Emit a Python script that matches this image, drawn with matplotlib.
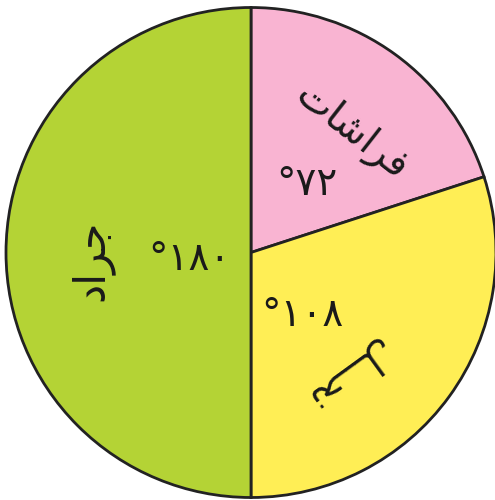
import matplotlib
matplotlib.use("Agg")
import matplotlib.pyplot as plt

# slice data (degrees), drawn clockwise from the top
names = ["فراشات", "نحل", "جراد"]
degrees = [72, 108, 180]
colors = ["#F9B4D2", "#FFEE55", "#B4D335"]

# matplotlib does not shape Arabic, so give the joined glyphs in visual order
shaped = {
    "فراشات": "\uFE95\uFE8E\uFEB7\uFE8D\uFEAE\uFED3",
    "نحل": "\uFEDE\u0640\u0640\u0640\uFEA4\uFEE7",
    "جراد": "\uFEA9\uFE8D\uFEAE\uFE9F",
}

name_pos = [(0.41, 0.49), (0.39, -0.50), (-0.65, -0.03)]
name_rot = [-38, -144, 90]
name_size = [28, 27, 31]
deg_pos = [(0.23, 0.28), (0.21, -0.255), (-0.25, -0.025)]

arabic_digits = str.maketrans("0123456789", "٠١٢٣٤٥٦٧٨٩")

fig = plt.figure(figsize=(4.95, 5.0), dpi=100)
ax = fig.add_axes([0, 0, 1, 1])
ax.pie(degrees, colors=colors, startangle=90, counterclock=False,
       wedgeprops=dict(edgecolor="#222222", linewidth=2))
ax.set_xlim(-251 / 245, 244 / 245)
ax.set_ylim(-247.5 / 245, 252.5 / 245)
ax.set_aspect("equal")
ax.axis("off")

for name, (x, y), rot, fs in zip(names, name_pos, name_rot, name_size):
    ax.text(x, y, shaped[name], fontsize=fs, rotation=rot, rotation_mode="anchor",
            ha="center", va="center", color="#1a1a1a", family="DejaVu Sans")

for d, (x, y) in zip(degrees, deg_pos):
    ax.text(x, y, "°" + str(d).translate(arabic_digits), fontsize=28,
            ha="center", va="center", color="#1a1a1a", family="DejaVu Sans")

fig.savefig("out.png", dpi=100)
